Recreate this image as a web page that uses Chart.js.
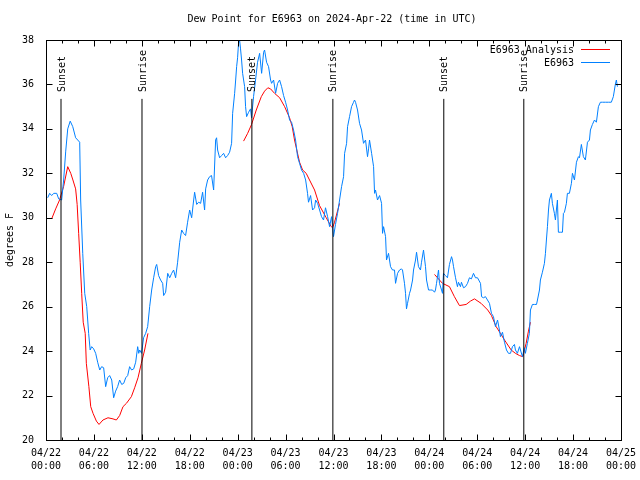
<!DOCTYPE html>
<html>
<head>
<meta charset="utf-8">
<script src="https://cdn.jsdelivr.net/npm/chart.js"></script>
<style>
  body { margin: 0; background: #fff; }
  #wrap { width: 640px; height: 480px; }
</style>
</head>
<body>
<div id="wrap"><canvas id="dew" width="640" height="480"></canvas></div>
<script>
// time axis is hours after 2024-04-22 00:00 UTC
const titleText = 'Dew Point for E6963 on 2024-Apr-22 (time in UTC)';
const startDay = 22;

// E6963 observations (deg F)
const blueHours = [
  0.21, 0.46, 0.71, 0.97, 1.34, 1.59, 1.96, 2.21, 2.47, 2.72,
  3.03, 3.35, 3.71, 3.97, 4.22, 4.34, 4.60, 4.85, 5.10, 5.34,
  5.53, 5.72, 5.97, 6.22, 6.47, 6.73, 6.97, 7.22, 7.47, 7.72,
  7.97, 8.23, 8.47, 8.72, 8.97, 9.22, 9.48, 9.73, 9.98, 10.23,
  10.47, 10.72, 10.98, 11.23, 11.48, 11.61, 11.73, 11.97, 12.22, 12.48,
  12.73, 12.98, 13.23, 13.48, 13.73, 13.86, 14.10, 14.35, 14.61, 14.73,
  14.98, 15.24, 15.49, 15.74, 15.98, 16.23, 16.48, 16.74, 16.99, 17.23,
  17.48, 17.73, 17.99, 18.24, 18.49, 18.61, 18.87, 19.11, 19.36, 19.61,
  19.86, 19.99, 20.24, 20.49, 20.73, 20.99, 21.24, 21.36, 21.49, 21.74,
  21.99, 22.24, 22.49, 22.74, 22.99, 23.24, 23.37, 23.62, 23.75, 23.87,
  23.99, 24.11, 24.24, 24.36, 24.49, 24.62, 24.87, 24.99, 25.12, 25.37,
  25.61, 25.74, 25.99, 26.24, 26.49, 26.75, 27.00, 27.25, 27.37, 27.62,
  27.87, 28.12, 28.25, 28.50, 28.75, 29.00, 29.25, 29.50, 29.75, 30.00,
  30.25, 30.50, 30.75, 31.00, 31.25, 31.50, 31.75, 32.00, 32.26, 32.51,
  32.75, 32.87, 33.13, 33.38, 33.63, 33.76, 34.01, 34.26, 34.50, 34.75,
  35.00, 35.26, 35.51, 35.76, 35.89, 36.00, 36.25, 36.51, 36.76, 37.01,
  37.26, 37.39, 37.64, 37.76, 38.01, 38.26, 38.51, 38.63, 38.76, 39.01,
  39.26, 39.51, 39.76, 40.01, 40.26, 40.39, 40.51, 40.77, 41.02, 41.14,
  41.26, 41.51, 41.77, 42.02, 42.14, 42.27, 42.52, 42.64, 42.89, 43.14,
  43.39, 43.64, 43.77, 44.02, 44.27, 44.51, 44.64, 44.89, 45.02, 45.14,
  45.27, 45.52, 45.65, 45.90, 46.02, 46.27, 46.40, 46.64, 46.89, 47.02,
  47.27, 47.52, 47.65, 47.90, 48.15, 48.40, 48.65, 48.77, 48.90, 49.15,
  49.27, 49.53, 49.65, 49.77, 50.02, 50.27, 50.52, 50.78, 50.90, 51.03,
  51.28, 51.52, 51.65, 51.90, 52.02, 52.28, 52.53, 52.78, 53.02, 53.27,
  53.53, 53.78, 54.03, 54.41, 54.54, 54.77, 55.03, 55.28, 55.53, 55.78,
  56.03, 56.28, 56.54, 56.78, 56.90, 57.16, 57.41, 57.66, 57.91, 58.16,
  58.41, 58.66, 58.78, 59.03, 59.29, 59.41, 59.66, 59.91, 60.03, 60.28,
  60.53, 60.66, 60.91, 61.16, 61.42, 61.54, 61.79, 61.91, 62.16, 62.41,
  62.54, 62.66, 62.79, 62.92, 63.04, 63.28, 63.41, 63.66, 63.79, 63.91,
  64.04, 64.16, 64.42, 64.67, 64.79, 64.92, 65.16, 65.29, 65.54, 65.79,
  65.92, 66.17, 66.42, 66.67, 66.80, 67.04, 67.29, 67.54, 67.80, 68.05,
  68.17, 68.42, 68.68, 68.92, 69.17, 69.42, 69.67, 70.05, 70.43, 70.79,
  71.04, 71.29, 71.42, 71.55
];
const blueDew = [
  30.9, 31.1, 31.0, 31.1, 31.1, 30.85, 30.8, 31.7, 33.0, 34.0,
  34.35, 34.1, 33.6, 33.5, 33.4, 30.8, 28.4, 26.6, 26.0, 24.8,
  24.05, 24.2, 24.1, 23.9, 23.5, 23.15, 23.3, 23.25, 22.4, 22.8,
  22.9, 22.7, 21.9, 22.2, 22.4, 22.7, 22.5, 22.55, 22.8, 22.9,
  23.3, 23.15, 23.2, 23.5, 24.2, 23.9, 24.05, 23.9, 24.6, 24.8,
  25.1, 26.0, 26.75, 27.3, 27.8, 27.9, 27.4, 27.2, 27.05, 26.5,
  26.65, 27.5, 27.3, 27.5, 27.65, 27.3, 28.0, 28.9, 29.45, 29.3,
  29.2, 29.8, 30.35, 30.0, 30.8, 31.15, 30.6, 30.7, 30.65, 31.15,
  30.35, 31.3, 31.7, 31.85, 31.9, 31.25, 33.5, 33.6, 33.05, 32.7,
  32.8, 32.9, 32.7, 32.8, 32.95, 33.35, 34.7, 35.6, 36.2, 36.8,
  37.2, 37.85, 38.0, 37.6, 37.1, 36.5, 35.9, 35.0, 34.55, 34.75,
  34.9, 34.5, 35.45, 36.2, 37.0, 37.4, 36.5, 37.45, 37.55, 37.0,
  36.8, 36.2, 36.05, 36.2, 35.6, 36.05, 36.2, 35.9, 35.5, 35.2,
  34.85, 34.4, 34.3, 33.95, 33.5, 32.75, 32.45, 32.15, 32.0, 31.7,
  31.1, 30.7, 31.0, 30.35, 30.45, 30.8, 30.65, 30.35, 30.05, 29.9,
  30.45, 30.05, 29.6, 30.05, 29.6, 29.15, 29.7, 30.2, 30.8, 31.4,
  31.85, 32.9, 33.35, 34.1, 34.55, 35.0, 35.2, 35.3, 35.2, 34.85,
  34.25, 33.95, 33.35, 33.5, 32.75, 33.1, 33.5, 32.9, 32.3, 31.1,
  31.25, 30.8, 31.0, 30.65, 29.3, 29.6, 29.15, 28.1, 28.4, 27.8,
  27.65, 27.65, 27.05, 27.5, 27.65, 27.7, 27.65, 27.05, 26.6, 25.9,
  26.15, 26.6, 26.75, 27.2, 27.65, 28.1, 28.45, 27.8, 27.65, 28.0,
  28.55, 27.8, 27.2, 26.75, 26.75, 26.75, 26.65, 26.75, 27.05, 27.65,
  27.05, 26.75, 26.6, 27.5, 27.4, 27.3, 27.9, 28.25, 28.1, 27.8,
  27.3, 26.9, 27.1, 26.9, 27.1, 26.85, 26.9, 27.05, 27.3, 27.25,
  27.5, 27.3, 27.3, 27.05, 26.45, 26.4, 26.45, 26.3, 26.15, 25.7,
  25.55, 25.1, 25.4, 24.95, 24.65, 24.85, 24.4, 24.05, 23.9, 23.9,
  24.2, 24.3, 24.05, 23.9, 24.2, 24.05, 23.75, 24.15, 23.9, 24.35,
  24.8, 25.85, 26.1, 26.1, 26.1, 26.3, 26.75, 27.2, 27.55, 27.95,
  28.4, 29.0, 29.6, 30.35, 30.8, 31.1, 30.65, 30.2, 29.9, 30.35,
  30.8, 29.35, 29.35, 29.35, 30.2, 30.25, 30.65, 31.1, 31.1, 31.55,
  32.0, 31.7, 32.5, 32.75, 32.7, 33.3, 32.75, 32.6, 33.4, 33.5,
  33.95, 34.2, 34.4, 34.3, 35.0, 35.2, 35.2, 35.2, 35.2, 35.2,
  35.45, 36.0, 36.2, 35.9
];

// E6963 Analysis, one run per morning (null = gap between runs)
const redHours = [
  0.71, 1.21, 1.70, 2.20, 2.72, 3.10, 3.37, 3.71, 3.90, 4.09,
  4.28, 4.47, 4.66, 4.91, 5.05, 5.37, 5.60, 5.89, 6.31, 6.64,
  7.13, 7.76, 8.39, 8.81, 9.22, 9.64, 10.07, 10.69, 11.10, 11.52,
  11.94, 12.35, 12.77,
  18,
  24.74, 25.25, 25.74, 26.33, 26.96, 27.37, 27.78, 28.12, 28.62, 29.26,
  29.88, 30.50, 30.83, 31.12, 31.75, 32.13, 32.58, 33.00, 33.63, 34.25,
  35.09, 35.72, 35.89, 36.13, 36.76,
  42,
  48.65, 49.27, 49.65, 50.52, 51.14, 51.77, 52.61, 53.15, 53.65, 54.48,
  55.31, 55.78, 56.37, 56.90, 57.41, 58.25, 58.78, 59.29, 59.70, 60.12,
  60.41, 60.66
];
const redDew = [
  29.95, 30.4, 30.8, 31.4, 32.3, 32.0, 31.7, 31.3, 30.6, 29.3,
  28.0, 26.6, 25.3, 24.8, 23.45, 22.4, 21.5, 21.2, 20.85, 20.7,
  20.9, 21.0, 20.95, 20.9, 21.1, 21.5, 21.65, 21.95, 22.35, 22.8,
  23.45, 24.05, 24.8,
  null,
  33.45, 33.8, 34.2, 34.85, 35.45, 35.7, 35.85, 35.8, 35.6, 35.4,
  35.0, 34.5, 34.1, 33.5, 32.5, 32.15, 32.0, 31.7, 31.25, 30.55,
  30.0, 29.6, 29.55, 29.8, 30.65,
  null,
  27.45, 27.2, 27.05, 26.9, 26.45, 26.05, 26.1, 26.25, 26.35, 26.15,
  25.85, 25.6, 25.1, 24.8, 24.5, 24.05, 23.9, 23.8, 23.75, 24.35,
  24.9, 25.3
];

// sunrise / sunset markers
const sunHours = [1.88, 12.02, 25.78, 35.92, 49.81, 59.83];
const sunNames = ['Sunset', 'Sunrise', 'Sunset', 'Sunrise', 'Sunset', 'Sunrise'];
const sunLineTop = 35.35;
const sunLabelAt = 35.66;

const FONT = '"DejaVu Sans Mono", "Liberation Mono", monospace';

function pad2(n) {
  return String(n).padStart(2, '0');
}

// frame, inward ticks, marker labels, title and key like gnuplot
const gnuplotLook = {
  id: 'gnuplotLook',
  afterDatasetsDraw(chart) {
    const { ctx, chartArea: a, scales: { x, y } } = chart;
    ctx.save();
    ctx.strokeStyle = '#000';
    ctx.lineWidth = 1;

    const L = Math.round(a.left) + 0.5, R = Math.round(a.right) + 0.5;
    const T = Math.round(a.top) + 0.5, B = Math.round(a.bottom) + 0.5;

    ctx.beginPath();
    for (let h = 0; h <= 72; h += 2) {
      const px = Math.round(x.getPixelForValue(h)) + 0.5;
      const len = h % 6 === 0 ? 6 : 3;
      ctx.moveTo(px, B); ctx.lineTo(px, B - len);
      ctx.moveTo(px, T); ctx.lineTo(px, T + len);
    }
    for (let v = 20; v <= 38; v += 2) {
      const py = Math.round(y.getPixelForValue(v)) + 0.5;
      ctx.moveTo(L, py); ctx.lineTo(L + 6, py);
      ctx.moveTo(R, py); ctx.lineTo(R - 6, py);
    }
    ctx.stroke();
    ctx.strokeRect(L, T, R - L, B - T);

    ctx.fillStyle = '#000';
    ctx.font = '10px ' + FONT;

    // Sunset / Sunrise labels
    sunHours.forEach((h, i) => {
      ctx.save();
      ctx.translate(x.getPixelForValue(h) + 1, y.getPixelForValue(sunLabelAt));
      ctx.rotate(-Math.PI / 2);
      ctx.textAlign = 'left';
      ctx.textBaseline = 'middle';
      ctx.fillText(sunNames[i], 0, 0);
      ctx.restore();
    });

    // title
    ctx.textAlign = 'center';
    ctx.textBaseline = 'middle';
    ctx.fillText(titleText, 332, 19);

    // key
    const keys = chart.data.datasets.filter(d => d.label);
    keys.forEach((d, i) => {
      const ky = 50 + i * 13;
      ctx.textAlign = 'right';
      ctx.fillStyle = '#000';
      ctx.fillText(d.label, 574, ky);
      ctx.strokeStyle = d.borderColor;
      ctx.beginPath();
      ctx.moveTo(581, ky - 0.5);
      ctx.lineTo(610, ky - 0.5);
      ctx.stroke();
    });
    ctx.restore();
  }
};

const lineStyle = { borderWidth: 1, pointRadius: 0, fill: false, tension: 0, spanGaps: false };

const datasets = [
  Object.assign({
    label: 'E6963 Analysis',
    data: redHours.map((h, i) => ({ x: h, y: redDew[i] })),
    borderColor: '#ff0000',
    order: 2
  }, lineStyle),
  Object.assign({
    label: 'E6963',
    data: blueHours.map((h, i) => ({ x: h, y: blueDew[i] })),
    borderColor: '#0080ff',
    order: 1
  }, lineStyle)
];
sunHours.forEach(h => {
  datasets.push(Object.assign({
    data: [{ x: h, y: 20 }, { x: h, y: sunLineTop }],
    borderColor: '#000',
    order: 0
  }, lineStyle));
});

const noGrid = { display: false, drawTicks: false, tickLength: 0 };

new Chart(document.getElementById('dew').getContext('2d'), {
  type: 'line',
  data: { datasets: datasets },
  options: {
    responsive: false,
    animation: false,
    layout: { padding: { top: 40, right: 19, left: 0, bottom: 0 } },
    plugins: { legend: { display: false }, tooltip: { enabled: false } },
    scales: {
      x: {
        type: 'linear',
        min: 0,
        max: 72,
        grid: noGrid,
        border: { display: false },
        // fixed box; edge labels may hang over the side padding
        afterFit: s => { s.height = 40; s.paddingLeft = 0; s.paddingRight = 0; },
        ticks: {
          stepSize: 6,
          autoSkip: false,
          maxRotation: 0,
          padding: 7,
          color: '#000',
          font: { family: FONT, size: 10, lineHeight: 1.3 },
          callback: v => ['04/' + pad2(startDay + Math.floor(v / 24)), pad2(v % 24) + ':00']
        }
      },
      y: {
        min: 20,
        max: 38,
        grid: noGrid,
        border: { display: false },
        afterFit: s => { s.width = 46; },
        title: {
          display: true,
          text: 'degrees F',
          color: '#000',
          font: { family: FONT, size: 10 }
        },
        ticks: {
          stepSize: 2,
          padding: 12,
          color: '#000',
          font: { family: FONT, size: 10 }
        }
      }
    }
  },
  plugins: [gnuplotLook]
});
</script>
</body>
</html>
